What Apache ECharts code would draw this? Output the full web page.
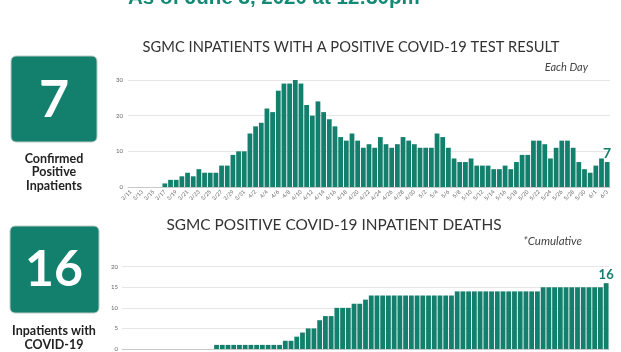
<!DOCTYPE html>
<html>
<head>
<meta charset="utf-8">
<script src="https://cdn.jsdelivr.net/npm/echarts@6/dist/echarts.min.js"></script>
<style>
  html, body { margin: 0; padding: 0; background: #fff; }
  #chart { width: 621px; height: 352px; }
</style>
</head>
<body>
<div id="chart"></div>
<script>
// one label per day, 3/11 .. 6/3
const days = [
  '3/11','3/12','3/13','3/14','3/15','3/16','3/17','3/18','3/19','3/20','3/21','3/22','3/23','3/24','3/25','3/26','3/27','3/28','3/29','3/30','3/31',
  '4/1','4/2','4/3','4/4','4/5','4/6','4/7','4/8','4/9','4/10','4/11','4/12','4/13','4/14','4/15','4/16','4/17','4/18','4/19','4/20',
  '4/21','4/22','4/23','4/24','4/25','4/26','4/27','4/28','4/29','4/30',
  '5/1','5/2','5/3','5/4','5/5','5/6','5/7','5/8','5/9','5/10','5/11','5/12','5/13','5/14','5/15','5/16','5/17','5/18','5/19','5/20',
  '5/21','5/22','5/23','5/24','5/25','5/26','5/27','5/28','5/29','5/30','5/31',
  '6/1','6/2','6/3'
]

// positive inpatients each day
const inpatients = [
  0,0,0,0,0,0,
  1,2,2,3,4,3,5,4,4,4,6,6,9,10,10,
  15,17,18,22,21,27,29,29,30,29,23,20,24,21,19,17,14,13,15,13,11,12,11,14,12,11,12,14,13,12,
  11,11,11,15,14,11,8,7,7,8,6,6,6,5,5,6,5,7,9,9,13,13,12,8,11,13,13,11,7,5,4,
  6,8,7
]

// cumulative inpatient deaths
const deaths = [
  0,0,0,0,0,0,0,0,0,0,0,0,0,0,0,0,
  1,1,1,1,1,1,1,1,1,1,1,1,
  2,2,3,4,5,5,7,8,8,10,10,10,11,11,12,
  13,13,13,13,13,13,13,13,13,13,13,13,13,13,13,
  14,14,14,14,14,14,14,14,14,14,14,14,14,14,14,
  15,15,15,15,15,15,15,15,15,15,15,
  16
]

const teal = '#13806d'
const font = 'Lato'

// only the last bar gets its number on top
function withLastLabel(values, size) {
  return values.map((v, i) => i === values.length - 1
    ? { value: v, label: { show: true, position: 'top', distance: 2, color: teal, fontWeight: 'bold', fontSize: size, fontFamily: font } }
    : v)
}

let myChart = echarts.init(document.getElementById('chart'), null, { renderer: 'canvas' })

myChart.setOption({
  animation: false,
  grid: [
    { left: 128, right: 11, top: 80, height: 107 },
    { left: 122, right: 12, top: 266.7, height: 82.6 }
  ],
  xAxis: [
    {
      type: 'category', gridIndex: 0, data: days,
      axisLine: { lineStyle: { color: '#c8c8c8' } },
      axisTick: { show: false },
      axisLabel: { rotate: 45, interval: 1, fontSize: 5.5, color: '#666', margin: 4, fontFamily: font }
    },
    {
      type: 'category', gridIndex: 1, data: days,
      axisLine: { lineStyle: { color: '#c8c8c8' } },
      axisTick: { show: false },
      axisLabel: { show: false }
    }
  ],
  yAxis: [
    {
      type: 'value', gridIndex: 0, min: 0, max: 30, interval: 10,
      axisLabel: { fontSize: 6, color: '#666', margin: 5, fontFamily: font },
      splitLine: { lineStyle: { color: '#e6e6e6' } }
    },
    {
      type: 'value', gridIndex: 1, min: 0, max: 20, interval: 5,
      axisLabel: { fontSize: 6, color: '#666', margin: 4, fontFamily: font },
      splitLine: { lineStyle: { color: '#e6e6e6' } }
    }
  ],
  series: [
    {
      type: 'bar', xAxisIndex: 0, yAxisIndex: 0,
      data: withLastLabel(inpatients, 14),
      barCategoryGap: '16%',
      itemStyle: { color: teal }
    },
    {
      type: 'bar', xAxisIndex: 1, yAxisIndex: 1,
      data: withLastLabel(deaths, 13),
      barCategoryGap: '16%',
      itemStyle: { color: teal }
    }
  ],
  graphic: [
    // header, cut off by the top edge
    { type: 'text', left: 128, top: -12, style: { text: 'As of June 3, 2020 at 12:30pm', fill: '#138a76', font: 'bold 20.5px "Liberation Sans", Arial' } },

    { type: 'text', x: 351, y: 47, style: { text: 'SGMC INPATIENTS WITH A POSITIVE COVID-19 TEST RESULT', fill: '#333', font: '14.7px Lato', align: 'center', verticalAlign: 'middle' } },
    { type: 'text', x: 588, y: 67, style: { text: 'Each Day', fill: '#444', font: 'italic 11px Lato', align: 'right', verticalAlign: 'middle' } },

    { type: 'text', x: 334, y: 225, style: { text: 'SGMC POSITIVE COVID-19 INPATIENT DEATHS', fill: '#333', font: '15.4px Lato', align: 'center', verticalAlign: 'middle' } },
    { type: 'text', x: 582, y: 241, style: { text: '*Cumulative', fill: '#444', font: 'italic 11.5px Lato', align: 'right', verticalAlign: 'middle' } },

    // left side boxes
    { type: 'rect', shape: { x: 11, y: 56, width: 86, height: 86, r: 5 }, style: { fill: teal, stroke: '#b9ccc6', lineWidth: 1 } },
    { type: 'text', x: 54, y: 100, style: { text: '7', fill: '#fff', font: 'bold 52px Lato', align: 'center', verticalAlign: 'middle' } },
    { type: 'text', x: 54, y: 172, style: { text: 'Confirmed\nPositive\nInpatients', fill: '#222', font: 'bold 12.5px Lato', lineHeight: 13.5, align: 'center', verticalAlign: 'middle' } },

    { type: 'rect', shape: { x: 10, y: 226, width: 89, height: 87, r: 5 }, style: { fill: teal, stroke: '#b9ccc6', lineWidth: 1 } },
    { type: 'text', x: 54, y: 270, style: { text: '16', fill: '#fff', font: 'bold 50px Lato', align: 'center', verticalAlign: 'middle' } },
    { type: 'text', x: 54, y: 338, style: { text: 'Inpatients with\nCOVID-19', fill: '#222', font: 'bold 12.5px Lato', lineHeight: 14, align: 'center', verticalAlign: 'middle' } }
  ]
})
</script>
</body>
</html>
